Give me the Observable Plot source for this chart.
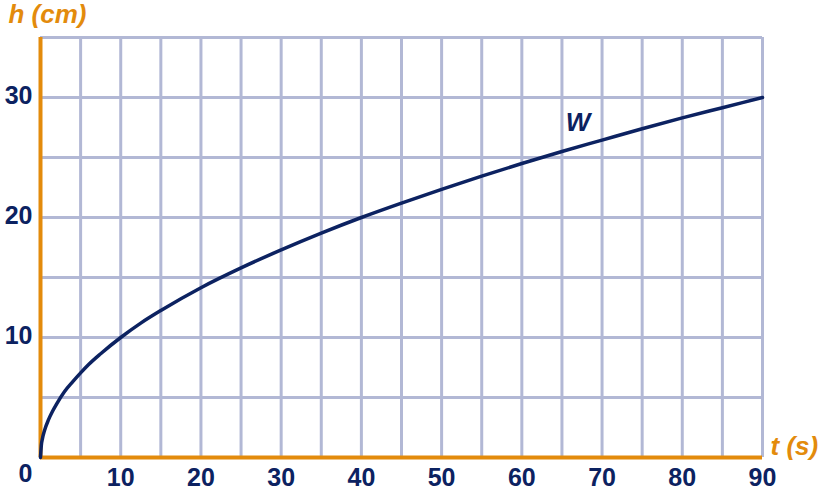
<!DOCTYPE html>
<html>
<head>
<meta charset="utf-8">
<script src="https://cdn.jsdelivr.net/npm/d3@7"></script>
<script src="https://cdn.jsdelivr.net/npm/@observablehq/plot@0.6"></script>
<style>
  html, body { margin: 0; padding: 0; background: #fff; }
  svg { display: block; }
</style>
</head>
<body>
<div id="chart"></div>
<script>
// Data
const tValues = [0, 0.1, 0.25, 0.5, 1, 1.5, 2, 3, 4, 5, 6, 7.5, 10, 12.5, 15, 20, 25, 30, 35, 40, 45, 50, 55, 60, 65, 70, 75, 80, 85, 90];
const hValues = [0, 1.0, 1.6, 2.25, 3.15, 3.85, 4.45, 5.5, 6.3, 7.05, 7.75, 8.65, 10, 11.2, 12.25, 14.15, 15.8, 17.3, 18.7, 20, 21.2, 22.35, 23.45, 24.5, 25.5, 26.45, 27.4, 28.3, 29.15, 30];
const xTickLabels = [10, 20, 30, 40, 50, 60, 70, 80, 90];
const yTickLabels = [10, 20, 30];
const xGrid = [5, 10, 15, 20, 25, 30, 35, 40, 45, 50, 55, 60, 65, 70, 75, 80, 85, 90];
const yGrid = [5, 10, 15, 20, 25, 30, 35];
const seriesName = "W";
const xLabel = "t (s)";
const yLabel = "h (cm)";

const curve = tValues.map((t, i) => ({t, h: hValues[i]}));

const navy = "#0c2261";
const orange = "#e38b0c";
const grid = "#b2b8d5";
const font = "'Liberation Sans', Arial, sans-serif";

const chart = Plot.plot({
  width: 824,
  height: 492,
  marginLeft: 40,
  marginRight: 62,
  marginTop: 37,
  marginBottom: 35,
  x: {domain: [0, 90], axis: null},
  y: {domain: [0, 35], axis: null},
  style: {fontFamily: font, background: "#fff", overflow: "visible"},
  marks: [
    Plot.ruleX(xGrid, {x: d => d, y1: 0, y2: 35, stroke: grid, strokeWidth: 3}),
    Plot.ruleY(yGrid, {y: d => d, x1: 0, x2: 90, stroke: grid, strokeWidth: 3}),
    Plot.ruleX([0], {y1: 0, y2: 35, stroke: orange, strokeWidth: 4}),
    Plot.ruleY([0], {x1: 0, x2: 90, stroke: orange, strokeWidth: 4}),
    Plot.line(curve, {x: "t", y: "h", stroke: navy, strokeWidth: 3.5, curve: "monotone-x"}),
    Plot.text(xTickLabels, {x: d => d, y: 0, dy: 20, text: d => String(d), fill: navy, fontSize: 25, fontWeight: "bold", textAnchor: "middle", lineAnchor: "middle"}),
    Plot.text([0], {x: 0, y: 0, dx: -15, dy: 16, text: d => String(d), fill: navy, fontSize: 25, fontWeight: "bold", textAnchor: "middle", lineAnchor: "middle"}),
    Plot.text(yTickLabels, {x: 0, y: d => d, dx: -8, dy: -2, text: d => String(d), fill: navy, fontSize: 25, fontWeight: "bold", textAnchor: "end", lineAnchor: "middle"}),
    Plot.text([yLabel], {x: 0, y: 35, dx: -32, dy: -23, text: d => d, fill: orange, fontSize: 26, fontWeight: "bold", fontStyle: "italic", textAnchor: "start", lineAnchor: "middle"}),
    Plot.text([xLabel], {x: 90, y: 0, dx: 8, dy: -11, text: d => d, fill: orange, fontSize: 26, fontWeight: "bold", fontStyle: "italic", textAnchor: "start", lineAnchor: "middle"}),
    Plot.text([seriesName], {x: 67, y: 27.9, text: d => d, fill: navy, fontSize: 26, fontWeight: "bold", fontStyle: "italic", textAnchor: "middle", lineAnchor: "middle"})
  ]
});
document.getElementById("chart").appendChild(chart);
</script>
</body>
</html>
